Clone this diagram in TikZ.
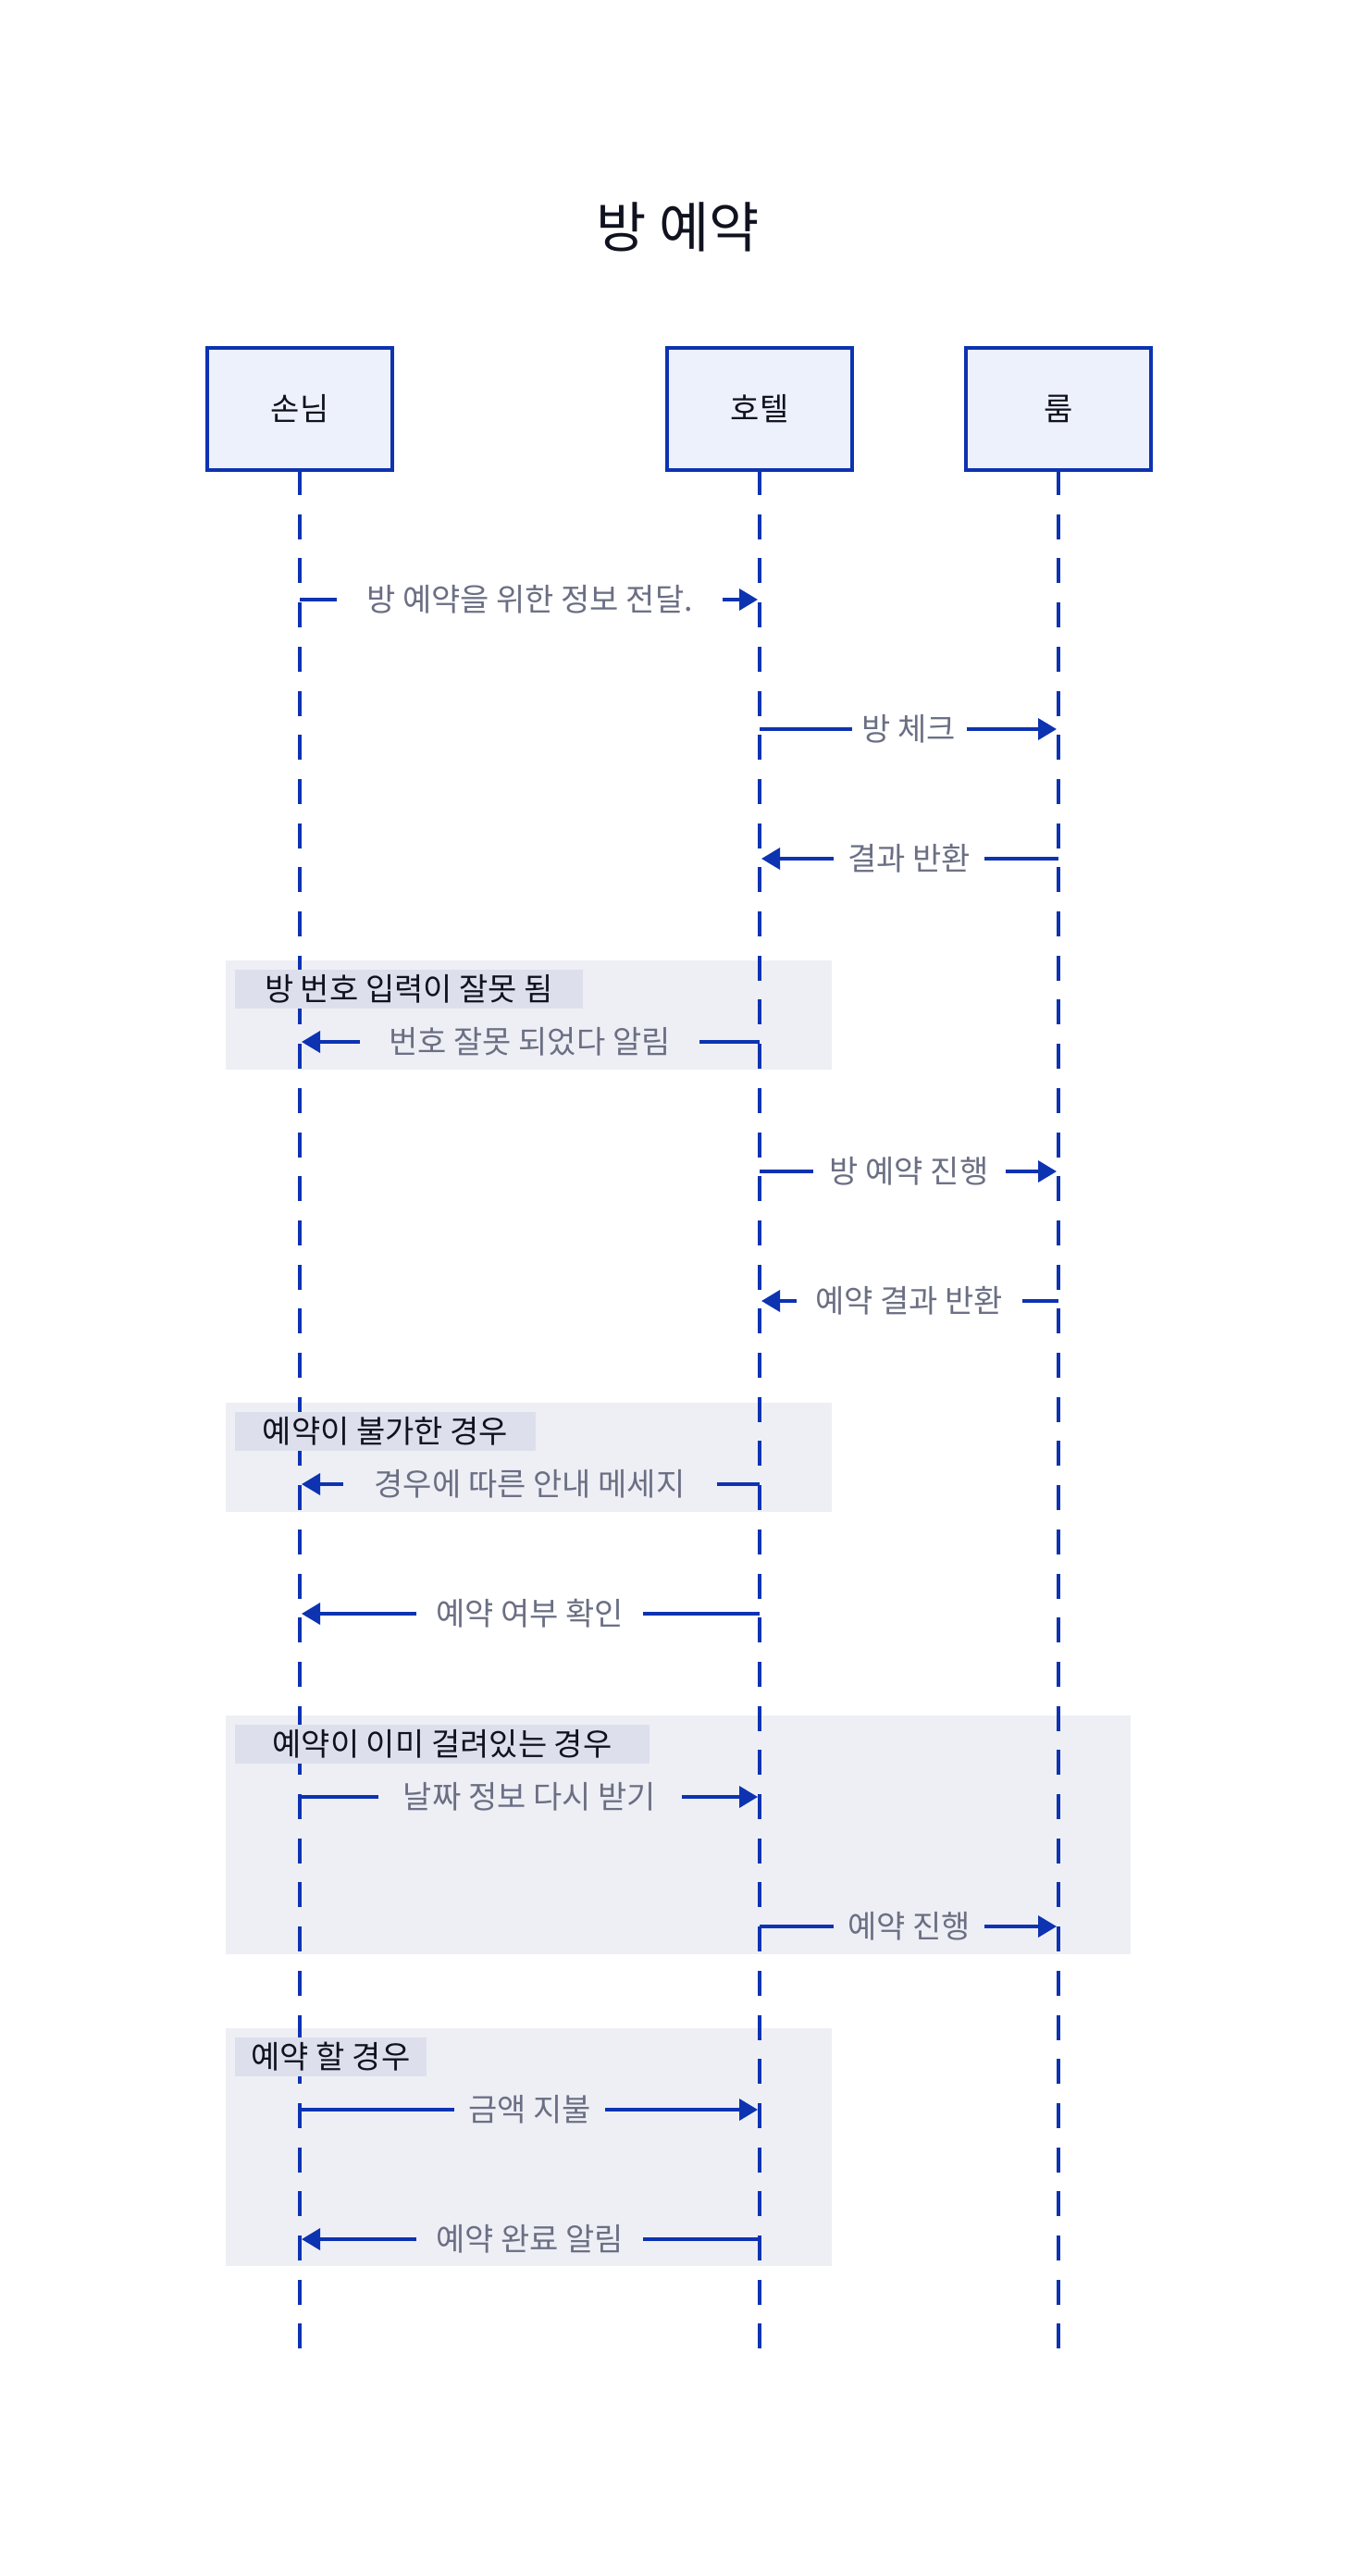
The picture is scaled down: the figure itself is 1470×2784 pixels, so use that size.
\documentclass[tikz,border=0pt]{standalone}
\usepackage{fontspec}
\setmainfont{Noto Sans CJK KR}
\usetikzlibrary{arrows.meta}
\definecolor{lineblue}{HTML}{0D33B1}
\definecolor{boxfill}{HTML}{EDF1FC}
\definecolor{groupfill}{HTML}{EEEFF5}
\definecolor{labelfill}{HTML}{DDE0EC}
\definecolor{msgtext}{HTML}{6B6F84}
\definecolor{darktext}{HTML}{10121F}
\newcommand{\bodyfont}{\fontsize{34}{40}\selectfont}
\begin{document}
\begin{tikzpicture}[x=1pt,y=-1pt,
  actor/.style={draw=lineblue, line width=4pt, fill=boxfill, minimum width=200pt,
    minimum height=132pt, inner sep=0pt, outer sep=0pt, font=\bodyfont, text=darktext,
    text height=29pt, text depth=4pt},
  lifeline/.style={draw=lineblue, line width=3.3pt, dash pattern=on 27pt off 20.7pt},
  msglabel/.style={inner sep=0pt, outer sep=0pt, font=\bodyfont, text=msgtext,
    text height=29pt, text depth=4pt},
  msgline/.style={draw=lineblue, line width=3.6pt},
  msgarrow/.style={msgline, -{Triangle[length=20pt,width=23pt]}, shorten >=2pt},
  groupbox/.style={fill=groupfill, draw=none, inner sep=0pt, outer sep=0pt, anchor=north west},
  grouplabel/.style={fill=labelfill, inner sep=0pt, outer sep=0pt, minimum height=42pt,
    anchor=north west, font=\bodyfont, text=darktext, text height=29pt, text depth=4pt},
  titlestyle/.style={font=\fontsize{59}{70}\selectfont, text=darktext,
    text height=51pt, text depth=7pt}
]
\useasboundingbox[fill=white] (0,0) rectangle (1470,2784);

% title
\node[titlestyle] (title) at (733,245) {방 예약};

% group backgrounds
\node[groupbox, minimum width=655pt, minimum height=118pt] (grp1) at (244,1038) {};
\node[groupbox, minimum width=655pt, minimum height=118pt] (grp2) at (244,1516) {};
\node[groupbox, minimum width=978pt, minimum height=258pt] (grp3) at (244,1854) {};
\node[groupbox, minimum width=655pt, minimum height=257pt] (grp4) at (244,2192) {};

% actors
\node[actor] (guest) at (324,442) {손님};
\node[actor] (hotel) at (821,442) {호텔};
\node[actor] (room) at (1144,442) {룸};

\coordinate (guestEnd) at (324,2540);
\coordinate (hotelEnd) at (821,2540);
\coordinate (roomEnd) at (1144,2540);

\draw[lifeline] (guest.south) -- (guestEnd);
\draw[lifeline] (hotel.south) -- (hotelEnd);
\draw[lifeline] (room.south) -- (roomEnd);

% group labels
\node[grouplabel, minimum width=376pt] (lab1) at (254,1048) {방 번호 입력이 잘못 됨};
\node[grouplabel, minimum width=325pt] (lab2) at (254,1526) {예약이 불가한 경우};
\node[grouplabel, minimum width=448pt] (lab3) at (254,1864) {예약이 이미 걸려있는 경우};
\node[grouplabel, minimum width=207pt] (lab4) at (254,2202) {예약 할 경우};

% messages
\node[msglabel, minimum width=417pt] (m1) at (572.5,648) {방 예약을 위한 정보 전달.};
\draw[msgline] (guest |- m1) -- (m1.west);
\draw[msgarrow] (m1.east) -- (hotel |- m1);

\node[msglabel, minimum width=124pt] (m2) at (982.5,788) {방 체크};
\draw[msgline] (hotel |- m2) -- (m2.west);
\draw[msgarrow] (m2.east) -- (room |- m2);

\node[msglabel, minimum width=163pt] (m3) at (982.5,928) {결과 반환};
\draw[msgline] (room |- m3) -- (m3.east);
\draw[msgarrow] (m3.west) -- (hotel |- m3);

\node[msglabel, minimum width=367pt] (m4) at (572.5,1126) {번호 잘못 되었다 알림};
\draw[msgline] (hotel |- m4) -- (m4.east);
\draw[msgarrow] (m4.west) -- (guest |- m4);

\node[msglabel, minimum width=208pt] (m5) at (982.5,1266) {방 예약 진행};
\draw[msgline] (hotel |- m5) -- (m5.west);
\draw[msgarrow] (m5.east) -- (room |- m5);

\node[msglabel, minimum width=244pt] (m6) at (982.5,1406) {예약 결과 반환};
\draw[msgline] (room |- m6) -- (m6.east);
\draw[msgarrow] (m6.west) -- (hotel |- m6);

\node[msglabel, minimum width=404pt] (m7) at (572.5,1604) {경우에 따른 안내 메세지};
\draw[msgline] (hotel |- m7) -- (m7.east);
\draw[msgarrow] (m7.west) -- (guest |- m7);

\node[msglabel, minimum width=245pt] (m8) at (572.5,1744) {예약 여부 확인};
\draw[msgline] (hotel |- m8) -- (m8.east);
\draw[msgarrow] (m8.west) -- (guest |- m8);

\node[msglabel, minimum width=328pt] (m9) at (572.5,1942) {날짜 정보 다시 받기};
\draw[msgline] (guest |- m9) -- (m9.west);
\draw[msgarrow] (m9.east) -- (hotel |- m9);

\node[msglabel, minimum width=163pt] (m10) at (982.5,2082) {예약 진행};
\draw[msgline] (hotel |- m10) -- (m10.west);
\draw[msgarrow] (m10.east) -- (room |- m10);

\node[msglabel, minimum width=163pt] (m11) at (572.5,2280) {금액 지불};
\draw[msgline] (guest |- m11) -- (m11.west);
\draw[msgarrow] (m11.east) -- (hotel |- m11);

\node[msglabel, minimum width=245pt] (m12) at (572.5,2420) {예약 완료 알림};
\draw[msgline] (hotel |- m12) -- (m12.east);
\draw[msgarrow] (m12.west) -- (guest |- m12);
\end{tikzpicture}
\end{document}
